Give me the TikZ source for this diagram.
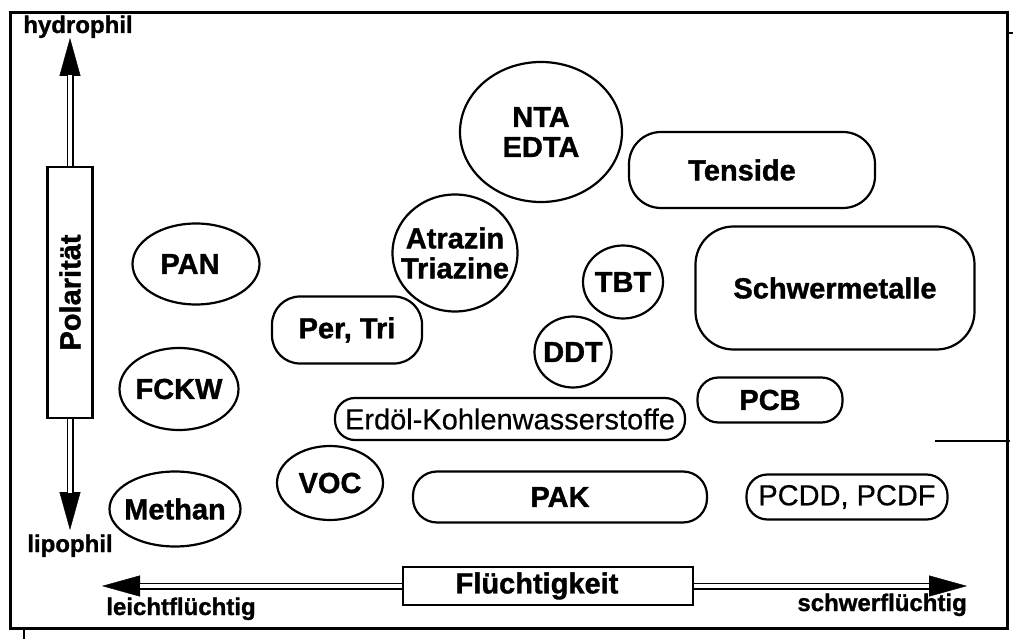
\documentclass[tikz,border=0pt]{standalone}
\usepackage{fontspec}
\setmainfont{Liberation Sans}[BoldFeatures={FakeBold=1.2}]
\newfontfamily\regfont{Liberation Sans}[FakeBold=0.4]
\usetikzlibrary{arrows.meta,shapes.geometric}
\begin{document}
\begin{tikzpicture}[x=1pt,y=-1pt,
  lab/.style={font=\fontsize{29}{30}\selectfont\bfseries, text=black, align=center},
  labn/.style={font=\regfont\fontsize{29}{30}\selectfont, text=black},
  ell/.style={draw, line width=2.2pt, ellipse, inner sep=-40pt, lab},
  pill/.style={draw, line width=2.2pt, rectangle, inner sep=0pt},
  axl/.style={font=\fontsize{24}{25}\selectfont\bfseries, inner sep=0pt},
  shaft/.style={draw, line width=1.8pt, double distance=3.4pt},
  head/.style={line width=0.4pt, -{Triangle[length=38pt,width=21pt]}},
]
\useasboundingbox (0,0) rectangle (1013,639);
% frame and scan marks
\draw[line width=3pt] (10,13) rectangle (1007,628);
\draw[line width=1.3pt] (935,441) -- (1010,441);
\draw[line width=1.2pt] (1007,33) -- (1013,33);
\draw[line width=1.8pt] (24,628) -- (24,639);

% substance nodes
\node[ell, minimum width=162pt, minimum height=140pt] (nta) at (541,132) {NTA\\EDTA};
\node[ell, minimum width=125pt, minimum height=117pt] (atr) at (455,253) {Atrazin\\Triazine};
\node[ell, minimum width=80pt, minimum height=73pt] (tbt) at (623,282) {TBT};
\node[ell, minimum width=77pt, minimum height=71pt] (ddt) at (573,352) {DDT};
\node[ell, minimum width=127pt, minimum height=81pt] (pan) at (196,264) {PAN\hspace*{12pt}};
\node[ell, minimum width=119pt, minimum height=82pt] (fckw) at (179,389) {FCKW};
\node[ell, minimum width=131pt, minimum height=75pt] (meth) at (175,509) {Methan};
\node[ell, minimum width=106pt, minimum height=74pt] (voc) at (330,483) {VOC};

\node[pill, lab, minimum width=150pt, minimum height=67pt, rounded corners=28pt] (per) at (347,330) {Per, Tri};
\node[pill, lab, minimum width=246pt, minimum height=76pt, rounded corners=32pt] (tens) at (752,170) {Tenside\hspace*{20pt}};
\node[pill, lab, minimum width=279pt, minimum height=123pt, rounded corners=38pt] (schw) at (835,288) {Schwermetalle};
\node[pill, lab, minimum width=145pt, minimum height=45pt, rounded corners=21pt] (pcb) at (770,400) {PCB};
\node[pill, labn, minimum width=350pt, minimum height=42pt, rounded corners=20pt] (erd) at (510,419) {Erdöl-Kohlenwasserstoffe};
\node[pill, labn, minimum width=201pt, minimum height=45pt, rounded corners=21pt] (pcdd) at (847,497) {PCDD, PCDF};
\node[pill, lab, minimum width=294pt, minimum height=51pt, rounded corners=24pt] (pak) at (560,497) {PAK};

% axes
\node[draw, line width=2.2pt, rotate=90, minimum width=251pt, minimum height=45pt, inner sep=0pt, lab] (pol) at (70,292.5) {Polarität};
\node[draw, line width=2.2pt, minimum width=290pt, minimum height=38pt, inner sep=0pt, lab] (fl) at (548,586) {Flüchtigkeit\hspace*{22pt}};

\coordinate (upTip) at (70,38);  \coordinate (upBase) at (70,75);
\coordinate (dnTip) at (70,530); \coordinate (dnBase) at (70,493);
\coordinate (lTip) at (102,586); \coordinate (lBase) at (140,586);
\coordinate (rTip) at (967,586); \coordinate (rBase) at (929,586);

\draw[head] (pol.east) -- (upTip);
\draw[shaft] (pol.east) -- (upBase);
\draw[head] (pol.west) -- (dnTip);
\draw[shaft] (pol.west) -- (dnBase);
\draw[head] (fl.west) -- (lTip);
\draw[shaft] (fl.west) -- (lBase);
\draw[head] (fl.east) -- (rTip);
\draw[shaft] (fl.east) -- (rBase);

\node[axl, anchor=base] (hyd) at (78,33) {hydrophil};
\node[axl, anchor=base] (lip) at (70,552) {lipophil};
\node[axl, anchor=base] (leicht) at (181,615) {leichtflüchtig};
\node[axl, anchor=base east] (schwer) at (967,611) {schwerflüchtig};
\end{tikzpicture}
\end{document}
